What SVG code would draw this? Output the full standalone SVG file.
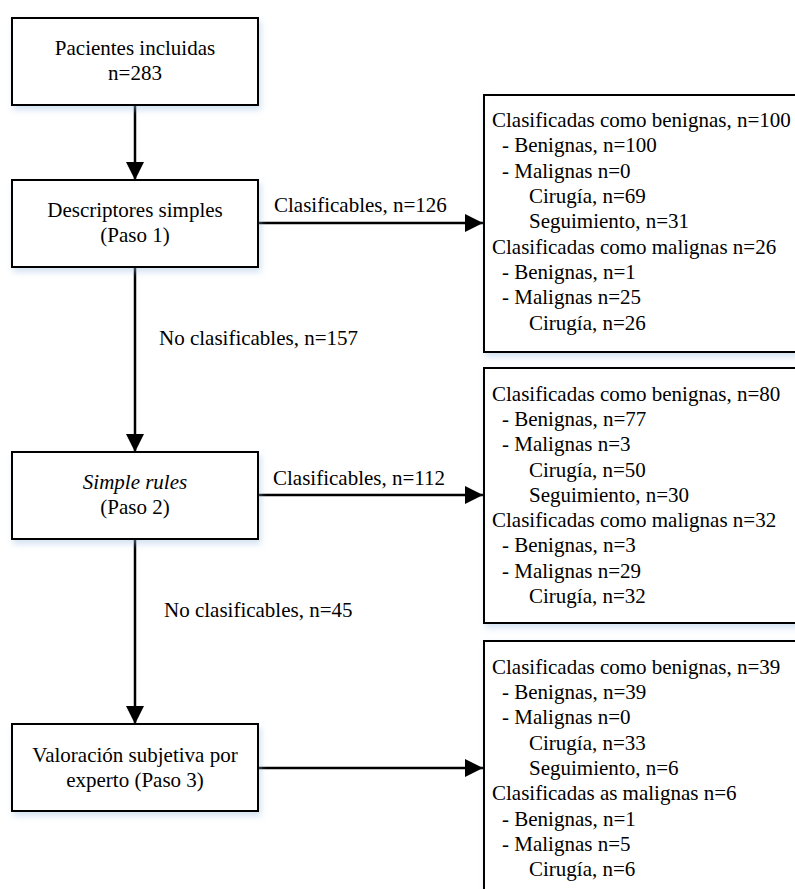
<svg xmlns="http://www.w3.org/2000/svg" width="795" height="889" viewBox="0 0 795 889" font-family="'Liberation Serif', 'Times New Roman', 'DejaVu Serif', serif" font-size="21">
<style>
text{font-family:'Liberation Serif','Times New Roman','DejaVu Serif',serif;font-size:21px;fill:#000}
.c{text-anchor:middle}
.box{fill:#fff;stroke:#000;stroke-width:2;filter:url(#sh)}
.ln{stroke:#000;stroke-width:2.5;fill:none}
</style>
<defs>
<filter id="sh" x="-10%" y="-10%" width="130%" height="140%">
<feDropShadow dx="2" dy="4" stdDeviation="3" flood-color="#9cbde0" flood-opacity="0.45"/>
</filter>
<marker id="ah" markerWidth="18" markerHeight="18" viewBox="0 0 18 18" refX="18" refY="9" orient="auto" markerUnits="userSpaceOnUse">
<path d="M0,0 L18,9 L0,18 Z" fill="#000"/>
</marker>
</defs>
<g id="connectors">
<line class="ln" x1="135" y1="105" x2="135" y2="180" marker-end="url(#ah)"/>
<line class="ln" x1="258" y1="223" x2="483" y2="223" marker-end="url(#ah)"/>
<text x="274" y="212">Clasificables, n=126</text>
<line class="ln" x1="135" y1="267" x2="135" y2="452" marker-end="url(#ah)"/>
<text x="159" y="345">No clasificables, n=157</text>
<line class="ln" x1="258" y1="495" x2="483" y2="495" marker-end="url(#ah)"/>
<text x="273" y="485">Clasificables, n=112</text>
<line class="ln" x1="135" y1="539" x2="135" y2="724" marker-end="url(#ah)"/>
<text x="164" y="617">No clasificables, n=45</text>
<line class="ln" x1="258" y1="768" x2="483" y2="768" marker-end="url(#ah)"/>
</g>
<g id="n1">
<rect class="box" x="12" y="18" width="246" height="87"/>
<text class="c" x="135" y="55">Pacientes incluidas</text>
<text class="c" x="135" y="80">n=283</text>
</g>
<g id="n2">
<rect class="box" x="12" y="180" width="246" height="87"/>
<text class="c" x="135" y="217">Descriptores simples</text>
<text class="c" x="135" y="242">(Paso 1)</text>
</g>
<g id="n3">
<rect class="box" x="12" y="452" width="246" height="87"/>
<text class="c" x="135" y="489" font-style="italic">Simple rules</text>
<text class="c" x="135" y="514">(Paso 2)</text>
</g>
<g id="n4">
<rect class="box" x="12" y="724" width="246" height="87"/>
<text class="c" x="135" y="762">Valoración subjetiva por</text>
<text class="c" x="135" y="787">experto (Paso 3)</text>
</g>
<g id="r1">
<rect class="box" x="484" y="95" width="330" height="257"/>
<text x="492" y="127">Clasificadas como benignas, n=100</text>
<text x="502" y="152">- Benignas, n=100</text>
<text x="502" y="178">- Malignas n=0</text>
<text x="529" y="203">Cirugía, n=69</text>
<text x="529" y="228">Seguimiento, n=31</text>
<text x="492" y="254">Clasificadas como malignas n=26</text>
<text x="502" y="279">- Benignas, n=1</text>
<text x="502" y="304">- Malignas n=25</text>
<text x="529" y="330">Cirugía, n=26</text>
</g>
<g id="r2">
<rect class="box" x="484" y="368" width="330" height="255"/>
<text x="492" y="401">Clasificadas como benignas, n=80</text>
<text x="502" y="426">- Benignas, n=77</text>
<text x="502" y="451">- Malignas n=3</text>
<text x="529" y="477">Cirugía, n=50</text>
<text x="529" y="502">Seguimiento, n=30</text>
<text x="492" y="527">Clasificadas como malignas n=32</text>
<text x="502" y="552">- Benignas, n=3</text>
<text x="502" y="578">- Malignas n=29</text>
<text x="529" y="603">Cirugía, n=32</text>
</g>
<g id="r3">
<rect class="box" x="484" y="641" width="330" height="260"/>
<text x="492" y="674">Clasificadas como benignas, n=39</text>
<text x="502" y="699">- Benignas, n=39</text>
<text x="502" y="724">- Malignas n=0</text>
<text x="529" y="750">Cirugía, n=33</text>
<text x="529" y="775">Seguimiento, n=6</text>
<text x="492" y="800">Clasificadas as malignas n=6</text>
<text x="502" y="826">- Benignas, n=1</text>
<text x="502" y="851">- Malignas n=5</text>
<text x="529" y="876">Cirugía, n=6</text>
</g>
</svg>
